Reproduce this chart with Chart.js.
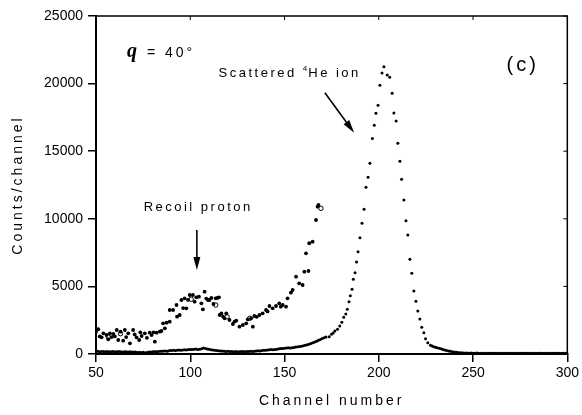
<!DOCTYPE html>
<html><head><meta charset="utf-8">
<script src="https://cdn.jsdelivr.net/npm/chart.js@4.4.1/dist/chart.umd.min.js"></script>
<style>html,body{margin:0;padding:0;background:#fff;}</style>
</head><body>
<canvas id="c" width="582" height="415"></canvas>
<script>
// ---------- DATA ----------
const xTicks = [50, 100, 150, 200, 250, 300];
const yTicks = [0, 5000, 10000, 15000, 20000, 25000];

// Scattered 4He ion spectrum: one point per channel from 50 to 172
const heLowStart = 50;
const heLowCounts = [
  180,200,170,190,180,160,190,170,160,180,
  170,160,180,160,150,170,160,140,160,150,
  150,140,120,130,110,130,100,120,140,150,
  160,180,170,190,210,200,220,230,210,250,
  260,270,250,280,290,270,300,310,300,330,
  340,330,350,370,340,360,380,440,400,370,
  350,320,300,280,260,240,220,230,200,190,
  200,180,190,170,180,160,170,190,180,170,
  190,180,200,190,210,220,240,230,250,270,
  280,300,310,330,320,340,360,380,400,410,
  420,440,460,450,470,490,510,530,550,580,
  610,650,690,730,780,830,890,950,1010,1080,
  1150,1210,1250
];
// peak region (channel, counts)
const hePeakChannels = [173.7,174.9,175.8,176.7,178.1,179.3,180.4,181.4,182.5,183.3,184.2,184.9,185.8,186.5,187.4,188.2,189.0,190.0,191.1,192.2,193.2,194.3,195.3,196.6,197.6,198.5,199.6,200.6,201.7,202.7,204.5,205.8,207.1,208.0,209.2,210.1,211.2,212.1,213.3,214.4,215.4,216.5,217.5,218.6,219.7,220.7,221.8,222.8,223.9,224.8,226.0,227.4,228.3,229.2,230.1,230.9];
const hePeakCounts   = [1280,1455,1560,1700,1825,2070,2345,2715,2960,3305,3870,4310,4785,5525,6015,6800,7570,8600,9665,10700,12330,13070,14105,15940,16915,17800,18395,19875,20785,21250,20635,20465,19285,17825,17235,15585,14255,12920,11390,9860,8800,7005,5970,4660,3900,3180,2590,1975,1575,1135,840,645,590,540,500,465];
// tail: one point per channel from 232 to 300
const heTailStart = 232;
const heTailCounts = [
  420,380,340,300,260,230,200,170,150,130,120,100,90,80,70,
  70,60,70,60,60,70,60,60,50,60,
  60,50,60,60,50,60,60,50,60,50,
  50,60,50,50,60,50,50,60,50,50,
  50,50,60,50,50,50,60,50,50,50,
  50,60,50,50,50,50,60,50,50,50,
  50,50,60,50
];

// Recoil proton spectrum (filled circles)
const recoilChannels = [50,51.2,52,53,53.9,55.6,56.5,57.4,58.3,59.2,60,61,61.8,63,64.4,65.3,66,67.1,68,69.7,70.5,71.5,72.9,73.5,74.2,75.9,77,78.5,79.5,80.5,81.2,82.1,83.8,84.7,85.6,86.5,87.4,89.1,89.1,90.9,92.7,93,94.4,95.3,96.2,97,97.9,98.8,99.7,101.4,102.3,103.2,104.6,105.9,106.7,107.6,108.5,109.4,110.2,111.2,112.3,113.5,114.3,115.2,115.6,116.5,117.4,118.2,119.1,120.8,122.6,123.5,124.4,126.1,127.9,129.7,130.5,132.3,133.2,134,135.3,136.7,138.4,140.2,141,142,143.7,145.5,147.2,148,149,150.8,151.6,153.4,154.3,156.1,157.8,159.6,160.5,161.4,162.7,163.1,164.9,166.7,167.5,168];
const recoilCounts   = [1650,1830,1300,1235,1530,1405,1090,1530,1250,1480,1300,1775,1035,1650,985,1775,1250,1530,790,1775,1450,1235,1035,1600,1330,1530,1200,1575,1400,1600,910,1575,1650,1700,2270,1900,2315,2390,3255,3255,3625,2760,2885,3995,3400,4120,3380,4000,4365,4365,3870,4195,4240,3750,3305,4610,4100,3995,3995,4150,3700,4120,4150,4195,2885,3000,2760,2640,3010,2515,2220,2400,2465,2020,2145,2270,2565,2640,2020,2810,2750,2885,3010,3255,3150,3550,3380,3550,3750,3500,3625,3500,4120,4535,4735,5720,5230,5105,6090,7450,6140,8190,8305,9910,10895,11020];
// Recoil proton spectrum (open circles)
const openChannels = [56.5, 63, 100.5, 113.5, 119.5, 131.5, 169.3];
const openCounts   = [1250, 1500, 4050, 3625, 2750, 2640, 10775];

// ---------- BUILD ----------
const hePoints = [];
heLowCounts.forEach((v, i) => hePoints.push({x: heLowStart + i, y: v}));
hePeakChannels.forEach((c, i) => hePoints.push({x: c, y: hePeakCounts[i]}));
heTailCounts.forEach((v, i) => hePoints.push({x: heTailStart + i, y: v}));
const recoilPoints = recoilChannels.map((c, i) => ({x: c, y: recoilCounts[i]}));
const openPoints = openChannels.map((c, i) => ({x: c, y: openCounts[i]}));

const SANS = "'Liberation Sans', Arial, sans-serif";
Chart.defaults.font.family = SANS;
Chart.defaults.color = '#000';

class SpacedLinearScale extends Chart.LinearScale {
  drawTitle() {
    const ctx = this.ctx;
    ctx.save();
    ctx.letterSpacing = '3px';
    super.drawTitle();
    ctx.restore();
  }
}
SpacedLinearScale.id = 'spacedLinear';
SpacedLinearScale.defaults = Chart.LinearScale.defaults;
Chart.register(SpacedLinearScale);

function arrow(ctx, x1, y1, x2, y2) {
  const ang = Math.atan2(y2 - y1, x2 - x1);
  const hl = 13, hw = 3.5;
  const bx = x2 - hl * Math.cos(ang), by = y2 - hl * Math.sin(ang);
  ctx.beginPath();
  ctx.moveTo(x1, y1); ctx.lineTo(bx, by); ctx.stroke();
  ctx.beginPath();
  ctx.moveTo(x2, y2);
  ctx.lineTo(bx + hw * Math.sin(ang), by - hw * Math.cos(ang));
  ctx.lineTo(bx - hw * Math.sin(ang), by + hw * Math.cos(ang));
  ctx.closePath(); ctx.fill();
}

const annotate = {
  id: 'annotate',
  afterDraw(chart) {
    const {ctx, chartArea: a, scales: {x, y}} = chart;
    const px = v => x.getPixelForValue(v), py = v => y.getPixelForValue(v);
    ctx.save();
    ctx.strokeStyle = '#000'; ctx.fillStyle = '#000';
    // frame top & right with inward ticks
    ctx.lineWidth = 1.5;
    ctx.beginPath();
    ctx.moveTo(a.left, a.top); ctx.lineTo(a.right, a.top); ctx.lineTo(a.right, a.bottom);
    ctx.stroke();
    ctx.lineWidth = 1;
    ctx.beginPath();
    xTicks.forEach(v => { ctx.moveTo(px(v), a.top); ctx.lineTo(px(v), a.top + 4); });
    yTicks.forEach(v => { ctx.moveTo(a.right, py(v)); ctx.lineTo(a.right - 4, py(v)); });
    ctx.stroke();
    // arrows
    ctx.lineWidth = 1.6;
    arrow(ctx, px(103.5), py(9170), px(103.5), py(6210));
    arrow(ctx, px(171.4), py(19330), px(186.9), py(16370));
    // texts
    ctx.textBaseline = 'alphabetic';
    ctx.textAlign = 'left';
    ctx.letterSpacing = '0px';
    ctx.font = "italic bold 20px 'Liberation Serif', serif";
    ctx.fillText('q', px(66.4), py(21990));
    ctx.letterSpacing = '3px';
    ctx.font = "14px " + SANS;
    ctx.fillText('= 40°', px(77), py(21990));
    ctx.font = "20px " + SANS;
    ctx.fillText('(c)', px(267.8), py(20930));
    ctx.letterSpacing = '2.5px';
    ctx.font = "13px " + SANS;
    let xs = px(115); const yb = py(20490);
    ctx.fillText('Scattered ', xs, yb);
    xs += ctx.measureText('Scattered ').width;
    ctx.font = "8px " + SANS; ctx.letterSpacing = '1px';
    ctx.fillText('4', xs, yb - 6);
    xs += ctx.measureText('4').width;
    ctx.font = "13px " + SANS; ctx.letterSpacing = '2.5px';
    ctx.fillText('He ion', xs, yb);
    ctx.textAlign = 'center';
    ctx.fillText('Recoil proton', px(104.2), py(10580));
    ctx.restore();
  }
};

new Chart(document.getElementById('c'), {
  type: 'scatter',
  data: {
    datasets: [
      {label: 'Scattered 4He ion', data: hePoints, pointRadius: 1.5, pointBorderWidth: 0, backgroundColor: '#000', borderColor: '#000', pointHoverRadius: 1.5},
      {label: 'Recoil proton', data: recoilPoints, pointRadius: 1.9, pointBorderWidth: 0, backgroundColor: '#000', borderColor: '#000', pointHoverRadius: 1.9},
      {label: 'Recoil proton (open)', data: openPoints, pointRadius: 2.2, pointBorderWidth: 1, backgroundColor: '#fff', borderColor: '#000', pointHoverRadius: 2.2}
    ]
  },
  options: {
    responsive: false,
    animation: false,
    events: [],
    devicePixelRatio: 1,
    layout: {padding: {top: 16, right: 13, left: 0, bottom: 0}},
    plugins: {legend: {display: false}, tooltip: {enabled: false}},
    scales: {
      x: {
        type: 'spacedLinear', min: 50, max: 300,
        afterBuildTicks: s => { s.ticks = xTicks.map(v => ({value: v})); },
        afterFit: s => { s.height = 61; },
        ticks: {font: {size: 14}, padding: 3, color: '#000', callback: v => String(v), maxRotation: 0},
        grid: {display: true, drawOnChartArea: false, drawTicks: true, tickLength: 8, color: '#000', lineWidth: 1.5},
        border: {display: true, color: '#000', width: 2},
        title: {display: true, text: 'Channel number', font: {size: 14}, color: '#000', padding: {top: 0, bottom: 5}}
      },
      y: {
        type: 'spacedLinear', min: 0, max: 25000,
        afterBuildTicks: s => { s.ticks = yTicks.map(v => ({value: v})); },
        afterFit: s => { s.width = 96; },
        ticks: {font: {size: 14}, padding: 5, color: '#000', callback: v => String(v)},
        grid: {display: true, drawOnChartArea: false, drawTicks: true, tickLength: 8, color: '#000', lineWidth: 1.5},
        border: {display: true, color: '#000', width: 2},
        title: {display: true, text: 'Counts/channel', font: {size: 14}, color: '#000', padding: {top: 10, bottom: 0}}
      }
    }
  },
  plugins: [annotate]
});
</script>
</body></html>
